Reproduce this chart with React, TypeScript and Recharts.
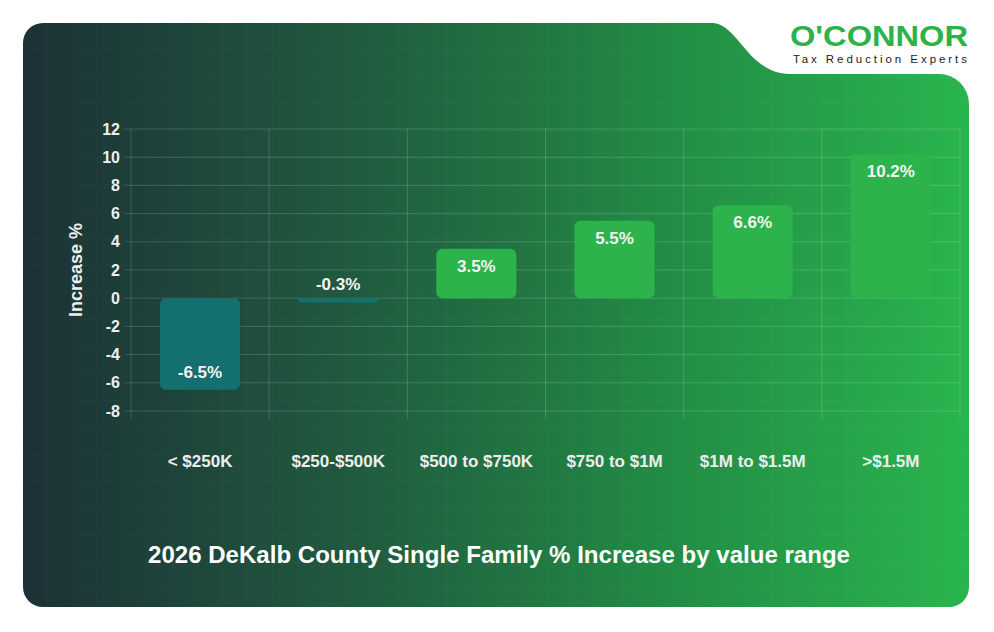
import React from 'react';
import { BarChart, Bar, XAxis, YAxis, CartesianGrid, Cell, LabelList } from 'recharts';

// Value ranges and their year-over-year % increase
const categories = ['< $250K', '$250-$500K', '$500 to $750K', '$750 to $1M', '$1M to $1.5M', '>$1.5M'];
const increases = [-6.5, -0.3, 3.5, 5.5, 6.6, 10.2];
const yTicks = [-8, -6, -4, -2, 0, 2, 4, 6, 8, 10, 12];

const data = categories.map((range, i) => ({ range, increase: increases[i] }));

const W = 994;
const H = 632;
const FONT = '"Liberation Sans", Arial, Helvetica, sans-serif';
const GRID = 'rgba(255,255,255,0.16)';
const POS_COLOR = '#2db34c';
const NEG_COLOR = '#13706f';

// plot box
const PLOT_LEFT = 131;
const PLOT_RIGHT = 960;
const PLOT_TOP = 129;
const PLOT_BOTTOM = 411;
const Y_AXIS_W = 60;
const X_AXIS_H = 40;

const CARD_PATH =
  'M 43 23 H 712 C 738 23, 748 74, 790 74 H 939 A 30 30 0 0 1 969 104 V 587 ' +
  'A 20 20 0 0 1 949 607 H 43 A 20 20 0 0 1 23 587 V 43 A 20 20 0 0 1 43 23 Z';

const ValueLabel = (props: any) => {
  const { x, y, width, height, value } = props;
  const top = Math.min(y, y + height);
  const bottom = Math.max(y, y + height);
  const cx = x + width / 2;
  let ty: number;
  if (bottom - top < 30) ty = top - 14;
  else if (value < 0) ty = bottom - 17;
  else ty = top + 17.5;
  return (
    <text
      x={cx}
      y={ty}
      textAnchor="middle"
      dominantBaseline="central"
      fill="#f4f4f4"
      fontFamily={FONT}
      fontWeight="bold"
      fontSize={17}
    >
      {`${Number(value).toFixed(1)}%`}
    </text>
  );
};

const YAxisTitle = (props: any) => {
  const vb = props.viewBox || {};
  const x = vb.x + 5;
  const y = vb.y + vb.height / 2;
  return (
    <text
      x={x}
      y={y}
      transform={`rotate(-90, ${x}, ${y})`}
      textAnchor="middle"
      dominantBaseline="central"
      fill="#efefef"
      fontFamily={FONT}
      fontWeight="bold"
      fontSize={18}
    >
      Increase %
    </text>
  );
};

const Background = () => (
  <svg width={W} height={H} style={{ position: 'absolute', left: 0, top: 0 }}>
    <defs>
      <linearGradient id="cardGrad" x1="0" y1="0" x2="1" y2="0">
        <stop offset="0" stopColor="#1c3136" />
        <stop offset="0.35" stopColor="#205a3f" />
        <stop offset="0.68" stopColor="#228c45" />
        <stop offset="1" stopColor="#29b54d" />
      </linearGradient>
      <pattern id="cardPattern" width="25" height="27" patternUnits="userSpaceOnUse" x="23" y="23">
        <path d="M 25 0 V 27 M 0 27 H 25" stroke="rgba(255,255,255,0.035)" strokeWidth="1" fill="none" />
      </pattern>
    </defs>
    <path d={CARD_PATH} fill="url(#cardGrad)" />
    <path d={CARD_PATH} fill="url(#cardPattern)" />
    <text
      x={790}
      y={46}
      fill="#2bb34a"
      fontFamily={FONT}
      fontWeight="bold"
      fontSize={29}
      textLength={178}
      lengthAdjust="spacingAndGlyphs"
    >
      O'CONNOR
    </text>
    <text
      x={793}
      y={63}
      fill="#1c1c1c"
      fontFamily={FONT}
      fontSize={11.5}
      textLength={174}
      lengthAdjust="spacing"
    >
      Tax Reduction Experts
    </text>
    <text
      x={499}
      y={555}
      textAnchor="middle"
      dominantBaseline="central"
      fill="#ffffff"
      fontFamily={FONT}
      fontWeight="bold"
      fontSize={23}
      textLength={702}
      lengthAdjust="spacingAndGlyphs"
    >
      2026 DeKalb County Single Family % Increase by value range
    </text>
  </svg>
);

export default function App() {
  const n = categories.length;
  return (
    <div style={{ position: 'absolute', left: 0, top: 0, width: W, height: H, background: '#ffffff' }}>
      <Background />
      <div style={{ position: 'absolute', left: 0, top: 0 }}>
        <BarChart
          width={W}
          height={H}
          data={data}
          margin={{
            top: PLOT_TOP,
            right: W - PLOT_RIGHT,
            bottom: H - PLOT_BOTTOM - X_AXIS_H,
            left: PLOT_LEFT - Y_AXIS_W,
          }}
          barSize={80}
        >
          <CartesianGrid
            stroke={GRID}
            y={PLOT_TOP}
            height={PLOT_BOTTOM - PLOT_TOP + 8}
            verticalCoordinatesGenerator={({ offset }: any) =>
              Array.from({ length: n + 1 }, (_, i) => offset.left + (i * offset.width) / n)
            }
          />
          <XAxis
            dataKey="range"
            height={X_AXIS_H}
            axisLine={false}
            tickLine={false}
            tickSize={8}
            tickMargin={36}
            interval={0}
            tick={{ fill: '#eeeeee', fontSize: 17, fontWeight: 'bold', fontFamily: FONT }}
          />
          <YAxis
            width={Y_AXIS_W}
            domain={[-8, 12]}
            ticks={yTicks}
            interval={0}
            axisLine={false}
            tickLine={{ stroke: GRID }}
            tickSize={6}
            tickMargin={5}
            tick={{ fill: '#eeeeee', fontSize: 16, fontWeight: 'bold', fontFamily: FONT }}
            label={<YAxisTitle />}
          />
          <Bar dataKey="increase" radius={6} isAnimationActive={false}>
            {data.map((d, i) => (
              <Cell key={i} fill={d.increase < 0 ? NEG_COLOR : POS_COLOR} />
            ))}
            <LabelList dataKey="increase" content={<ValueLabel />} />
          </Bar>
        </BarChart>
      </div>
    </div>
  );
}
